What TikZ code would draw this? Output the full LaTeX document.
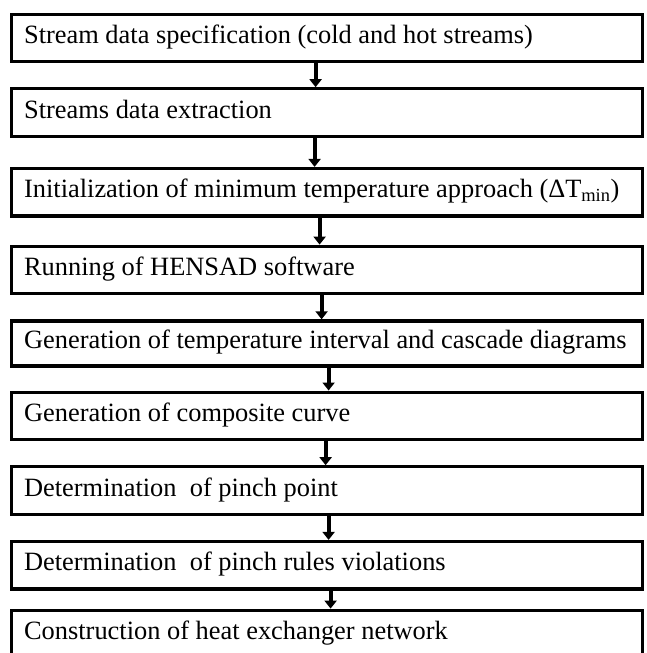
\documentclass[tikz,border=0pt]{standalone}
\usepackage{fontspec}
\setmainfont{Liberation Serif}
\usetikzlibrary{arrows.meta, positioning}

\begin{document}
\begin{tikzpicture}[
    x=1pt, y=1pt,
    stepbox/.style={draw, line width=3.2pt, minimum height=47.5pt, inner xsep=12.5pt,
                    text height=19pt, text depth=8pt,
                    font=\fontsize{26.4}{30}\selectfont,
                    execute at begin node={\hbox to 606pt\bgroup},
                    execute at end node={\hfil\egroup}},
    arr/.style={-{Triangle[width=12pt, length=8pt]}, line width=3.8pt},
]
\useasboundingbox (0,0) rectangle (647,-653);

% Steps, top to bottom
\node[stepbox, anchor=north west] (spec) at (10,-12.5) {Stream data specification (cold and hot streams)};
\node[stepbox, below=24pt of spec] (extract) {Streams data extraction};
\node[stepbox, below=29pt of extract] (dtmin) {Initialization of minimum temperature approach (ΔT\textsubscript{min})};
\node[stepbox, below=27pt of dtmin] (hensad) {Running of HENSAD software};
\node[stepbox, below=24pt of hensad, minimum height=45pt] (cascade) {Generation of temperature interval and cascade diagrams};
\node[stepbox, below=23pt of cascade] (composite) {Generation of composite curve};
\node[stepbox, below=24pt of composite] (pinch) {Determination\ \ of pinch point};
\node[stepbox, below=24pt of pinch] (rules) {Determination\ \ of pinch rules violations};
\node[stepbox, below=18pt of rules] (hen) {Construction of heat exchanger network};

% Arrows between steps
\foreach \a/\b/\dx in {spec/extract/-11.5, extract/dtmin/-12.5, dtmin/hensad/-7.5,
                       hensad/cascade/-5.5, cascade/composite/1.5, composite/pinch/-1.5,
                       pinch/rules/1.5, rules/hen/3.5}
  \draw[arr] ([xshift=\dx]\a.south) -- ([xshift=\dx]\b.north);

\end{tikzpicture}
\end{document}
